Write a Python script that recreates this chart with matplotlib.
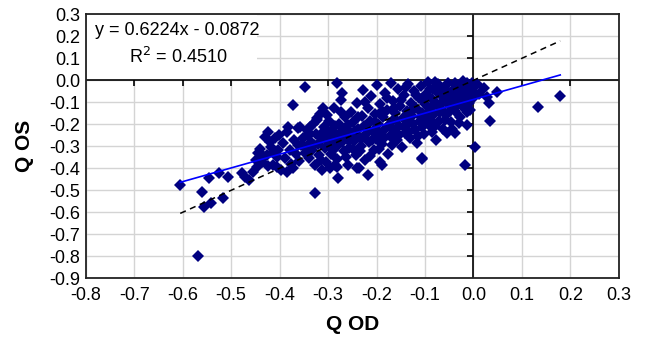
import matplotlib
matplotlib.use("Agg")
import matplotlib.pyplot as plt
from matplotlib.patches import Rectangle
import numpy as np

plt.rcParams['font.family'] = ['Liberation Sans', 'DejaVu Sans']
plt.rcParams['axes.unicode_minus'] = False

# ---- data ----
# scattered / outlying points
sparse_x = [-0.605, -0.561, -0.545, -0.557, -0.542, -0.517, -0.524, -0.506, -0.568,
            -0.478, -0.471, -0.464, -0.454, -0.447, -0.440, -0.423, -0.406, -0.406,
            -0.385, -0.372, -0.327, -0.313, -0.279, -0.285, -0.241, -0.217, -0.237,
            -0.189, -0.193, -0.107, -0.017, -0.282, 0.179, 0.134, 0.034, 0.004,
            0.033, 0.048, 0.021, 0.028, -0.014, -0.079, -0.054, -0.038, -0.014,
            -0.014, -0.107, -0.107, -0.083, -0.086, -0.282, -0.272, -0.347, -0.372,
            -0.382, -0.358, -0.423, -0.402, -0.420, -0.444, -0.433, -0.413, -0.361,
            -0.337, -0.340, -0.310, -0.303, -0.323]
sparse_y = [-0.476, -0.509, -0.445, -0.578, -0.556, -0.536, -0.420, -0.438, -0.799,
            -0.423, -0.438, -0.453, -0.415, -0.393, -0.332, -0.390, -0.347, -0.393,
            -0.415, -0.400, -0.514, -0.408, -0.445, -0.385, -0.400, -0.430, -0.400,
            -0.385, -0.370, -0.359, -0.385, -0.393, -0.070, -0.123, -0.184, -0.302,
            -0.105, -0.052, -0.036, -0.075, -0.011, -0.006, -0.241, -0.241, -0.203,
            -0.143, -0.355, -0.211, -0.195, -0.234, -0.014, -0.059, -0.029, -0.112,
            -0.211, -0.211, -0.234, -0.249, -0.279, -0.332, -0.347, -0.325, -0.294,
            -0.211, -0.241, -0.127, -0.158, -0.180]

# dense cloud (Q OD, Q OS) pairs, estimated
dense_pts = [
    (-0.352, -0.262), (-0.348, -0.301), (-0.344, -0.228), (-0.339, -0.352), (-0.336, -0.279),
    (-0.333, -0.318), (-0.331, -0.197), (-0.327, -0.386), (-0.324, -0.243), (-0.321, -0.291),
    (-0.318, -0.338), (-0.316, -0.152), (-0.313, -0.265), (-0.309, -0.214), (-0.306, -0.309),
    (-0.304, -0.371), (-0.301, -0.247), (-0.298, -0.183), (-0.296, -0.285), (-0.293, -0.334),
    (-0.291, -0.226), (-0.288, -0.126), (-0.285, -0.262), (-0.283, -0.302), (-0.281, -0.357),
    (-0.278, -0.198), (-0.276, -0.241), (-0.273, -0.088), (-0.271, -0.281), (-0.268, -0.323),
    (-0.266, -0.166), (-0.263, -0.219), (-0.261, -0.266), (-0.258, -0.384), (-0.256, -0.307),
    (-0.253, -0.142), (-0.251, -0.239), (-0.248, -0.188), (-0.246, -0.276), (-0.243, -0.341),
    (-0.241, -0.105), (-0.238, -0.222), (-0.236, -0.258), (-0.233, -0.298), (-0.231, -0.161),
    (-0.228, -0.045), (-0.226, -0.207), (-0.223, -0.362), (-0.221, -0.245), (-0.218, -0.128),
    (-0.216, -0.281), (-0.213, -0.186), (-0.211, -0.073), (-0.208, -0.229), (-0.206, -0.318),
    (-0.203, -0.152), (-0.201, -0.265), (-0.198, -0.021), (-0.196, -0.197), (-0.193, -0.107),
    (-0.191, -0.243), (-0.188, -0.291), (-0.186, -0.166), (-0.183, -0.058), (-0.181, -0.218),
    (-0.178, -0.134), (-0.176, -0.337), (-0.173, -0.253), (-0.171, -0.011), (-0.168, -0.187),
    (-0.166, -0.094), (-0.163, -0.232), (-0.161, -0.147), (-0.158, -0.272), (-0.156, -0.039),
    (-0.153, -0.206), (-0.151, -0.118), (-0.148, -0.305), (-0.146, -0.171), (-0.143, -0.069),
    (-0.141, -0.238), (-0.138, -0.139), (-0.136, -0.015), (-0.133, -0.196), (-0.131, -0.263),
    (-0.128, -0.101), (-0.126, -0.163), (-0.123, -0.049), (-0.121, -0.224), (-0.118, -0.128),
    (-0.116, -0.287), (-0.113, -0.081), (-0.111, -0.186), (-0.108, -0.027), (-0.106, -0.148),
    (-0.103, -0.243), (-0.101, -0.106), (-0.098, -0.061), (-0.096, -0.171), (-0.093, -0.009),
    (-0.091, -0.126), (-0.088, -0.213), (-0.086, -0.084), (-0.083, -0.041), (-0.081, -0.152),
    (-0.078, -0.271), (-0.076, -0.107), (-0.073, -0.018), (-0.071, -0.183), (-0.068, -0.066),
    (-0.066, -0.129), (-0.063, -0.221), (-0.061, -0.033), (-0.058, -0.094), (-0.056, -0.158),
    (-0.053, -0.012), (-0.051, -0.071), (-0.048, -0.118), (-0.046, -0.191), (-0.043, -0.044),
    (-0.041, -0.087), (-0.038, -0.139), (-0.036, -0.021), (-0.033, -0.062), (-0.031, -0.106),
    (-0.028, -0.167), (-0.026, -0.038), (-0.023, -0.081), (-0.021, -0.005), (-0.018, -0.119),
    (-0.016, -0.054), (-0.013, -0.089), (-0.011, -0.028), (-0.008, -0.135), (-0.006, -0.066),
    (-0.003, -0.042), (0.002, -0.078), (0.008, -0.018), (0.012, -0.061),
    (-0.347, -0.331), (-0.341, -0.253), (-0.329, -0.295), (-0.322, -0.172), (-0.314, -0.361),
    (-0.311, -0.236), (-0.302, -0.276), (-0.297, -0.398), (-0.289, -0.318), (-0.286, -0.207),
    (-0.279, -0.289), (-0.274, -0.146), (-0.269, -0.236), (-0.264, -0.348), (-0.259, -0.201),
    (-0.254, -0.272), (-0.249, -0.313), (-0.244, -0.229), (-0.239, -0.165), (-0.234, -0.323),
    (-0.229, -0.262), (-0.224, -0.098), (-0.219, -0.202), (-0.214, -0.342), (-0.209, -0.273),
    (-0.204, -0.189), (-0.199, -0.226), (-0.194, -0.312), (-0.189, -0.139), (-0.184, -0.263),
    (-0.179, -0.081), (-0.174, -0.204), (-0.169, -0.292), (-0.164, -0.125), (-0.159, -0.179),
    (-0.154, -0.248), (-0.149, -0.089), (-0.144, -0.211), (-0.139, -0.032), (-0.134, -0.234),
    (-0.129, -0.141), (-0.124, -0.198), (-0.119, -0.066), (-0.114, -0.251), (-0.109, -0.169),
    (-0.104, -0.089), (-0.099, -0.196), (-0.094, -0.149), (-0.089, -0.039), (-0.084, -0.118),
    (-0.079, -0.206), (-0.074, -0.058), (-0.069, -0.146), (-0.064, -0.099), (-0.059, -0.181),
    (-0.054, -0.048), (-0.049, -0.141), (-0.044, -0.221), (-0.039, -0.012), (-0.034, -0.087),
    (-0.029, -0.195), (-0.024, -0.117), (-0.019, -0.032), (-0.009, -0.101), (-0.004, -0.011),
    (-0.448, -0.361), (-0.441, -0.312), (-0.436, -0.371), (-0.431, -0.258), (-0.426, -0.338),
    (-0.418, -0.301), (-0.414, -0.384), (-0.409, -0.262), (-0.404, -0.319), (-0.398, -0.408),
    (-0.394, -0.287), (-0.389, -0.351), (-0.384, -0.236), (-0.379, -0.318), (-0.376, -0.381),
    (-0.371, -0.272), (-0.366, -0.333), (-0.362, -0.219), (-0.359, -0.366), (-0.356, -0.296),
]

slope, intercept, r2 = 0.6224, -0.0872, 0.4510
x_ticks = [-0.8, -0.7, -0.6, -0.5, -0.4, -0.3, -0.2, -0.1, 0.0, 0.1, 0.2, 0.3]
y_ticks = [0.3, 0.2, 0.1, 0.0, -0.1, -0.2, -0.3, -0.4, -0.5, -0.6, -0.7, -0.8, -0.9]

qod = np.array(sparse_x + [p[0] for p in dense_pts])
qos = np.array(sparse_y + [p[1] for p in dense_pts])

# ---- figure ----
fig = plt.figure(figsize=(6.46, 3.37), dpi=100)
ax = fig.add_axes([0.1327, 0.1742, 0.8253, 0.7834])
ax.set_xlim(-0.8, 0.3)
ax.set_ylim(-0.9, 0.3)
ax.set_xticks(x_ticks)
ax.set_yticks(y_ticks)
ax.set_xticklabels([f"{v:.1f}" for v in x_ticks], fontsize=13)
ax.set_yticklabels([f"{v:.1f}" for v in y_ticks], fontsize=13)
ax.tick_params(axis='x', length=0, pad=6)
ax.tick_params(axis='y', length=0, pad=4)
ax.grid(True, color='#d4d4d4', linewidth=1.0)
ax.set_axisbelow(True)
for s in ax.spines.values():
    s.set_color('#222222')
    s.set_linewidth(1.3)

# axes crossing at zero
ax.axhline(0, color='black', linewidth=1.2, zorder=2)
ax.axvline(0, color='black', linewidth=1.2, zorder=2)
xt = np.array(x_ticks[1:-1])
ax.plot(xt, np.zeros_like(xt), linestyle='none', marker=3, markersize=4,
        color='black', markeredgewidth=1.2, zorder=2)
yt = np.array(y_ticks[1:-1])
ax.plot(np.zeros_like(yt), yt, linestyle='none', marker=0, markersize=4,
        color='black', markeredgewidth=1.2, zorder=2)

# equation box
ax.add_patch(Rectangle((0.002, 0.75), 0.32, 0.247, transform=ax.transAxes,
                       facecolor='white', edgecolor='none', zorder=1.5))
ax.text(0.0175, 0.94, f"y = {slope:.4f}x - {abs(intercept):.4f}", transform=ax.transAxes,
        fontsize=13, ha='left', va='center', zorder=3)
ax.text(0.173, 0.84, f"R$^2$ = {r2:.4f}", transform=ax.transAxes,
        fontsize=13, ha='center', va='center', zorder=3)

# lines
xl = np.array([qod.min(), qod.max()])
ax.plot(xl, xl, linestyle=(0, (4, 3)), color='black', linewidth=1.1, zorder=4)
ax.plot(xl, slope * xl + intercept, color='#0000ff', linewidth=1.2, zorder=5)

# points
ax.plot(qod, qos, linestyle='none', marker='D', markersize=5.8,
        color='#000080', markeredgewidth=0, zorder=3)

ax.set_xlabel("Q OD", fontsize=15, fontweight='bold', labelpad=8)
ax.set_ylabel("Q OS", fontsize=15, fontweight='bold', labelpad=11)

fig.savefig("out.png", dpi=100)
